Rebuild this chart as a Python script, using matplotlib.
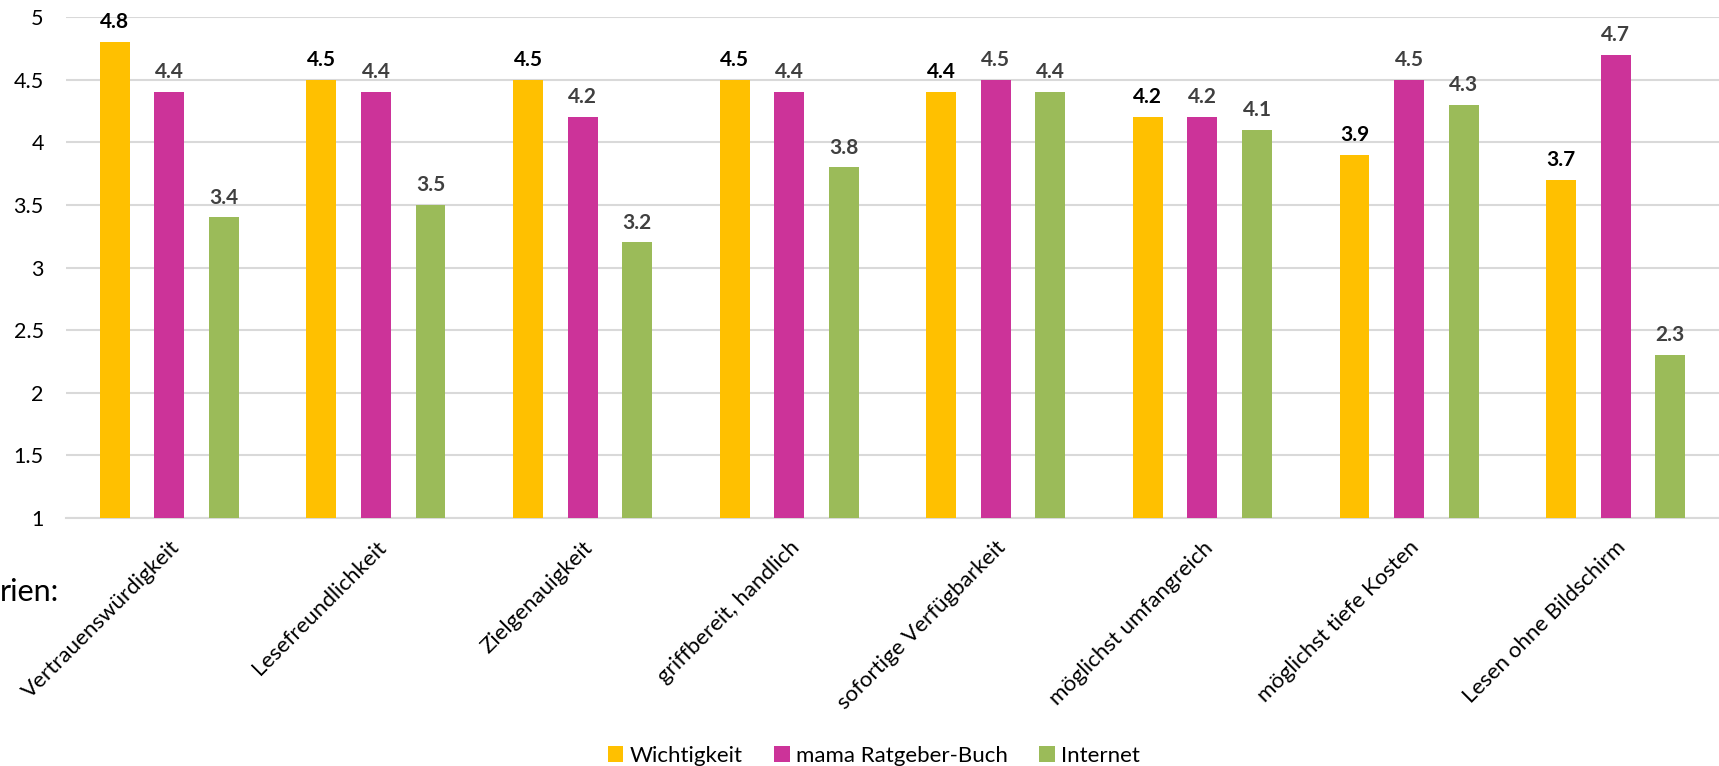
import matplotlib
matplotlib.use("Agg")
import matplotlib.pyplot as plt
import numpy as np

# ── Data ──
categories = ["Vertrauenswürdigkeit", "Lesefreundlichkeit", "Zielgenauigkeit",
              "griffbereit, handlich", "sofortige Verfügbarkeit", "möglichst umfangreich",
              "möglichst tiefe Kosten", "Lesen ohne Bildschirm"]
wichtigkeit = [4.8, 4.5, 4.5, 4.5, 4.4, 4.2, 3.9, 3.7]
ratgeber = [4.4, 4.4, 4.2, 4.4, 4.5, 4.2, 4.5, 4.7]
internet = [3.4, 3.5, 3.2, 3.8, 4.4, 4.1, 4.3, 2.3]
series_names = ["Wichtigkeit", "mama Ratgeber-Buch", "Internet"]
colors = ["#FFC000", "#CC3399", "#9BBB59"]
label_colors = ["#000000", "#404040", "#404040"]
yticks = [1, 1.5, 2, 2.5, 3, 3.5, 4, 4.5, 5]

plt.rcParams['font.family'] = ['Lato', 'DejaVu Sans']

fig = plt.figure(figsize=(17.19, 7.66), dpi=100)
ax = fig.add_axes([66 / 1719, 1 - 518 / 766, 1 - 66 / 1719, (518 - 17) / 766])

x = np.arange(len(categories))
width = 0.145
step = 0.264
for i, (vals, name) in enumerate(zip([wichtigkeit, ratgeber, internet], series_names)):
    pos = x + (i - 1) * step
    ax.bar(pos, np.array(vals) - 1, bottom=1, width=width, color=colors[i], label=name, zorder=3)
    for p, v in zip(pos, vals):
        ax.annotate(f"{v:.1f}", (p, v), textcoords="offset points", xytext=(0, 7),
                    ha='center', va='bottom', fontsize=15, fontweight='bold',
                    color=label_colors[i])

ax.set_xlim(-0.5, len(categories) - 0.5)
ax.set_ylim(1, 5)
ax.set_yticks(yticks)
ax.set_yticklabels([f"{t:g}" for t in yticks], fontsize=15.5, color="#000000")
ax.set_xticks(x)
ax.set_xticklabels(categories, rotation=45, ha='right', va='top', rotation_mode='anchor',
                   fontsize=16, color="#000000")
ax.tick_params(axis='both', length=0)
ax.tick_params(axis='y', pad=16)
ax.tick_params(axis='x', pad=14)
ax.yaxis.grid(True, color="#D9D9D9", linewidth=1.5, zorder=0)
for s in ["top", "right", "left"]:
    ax.spines[s].set_visible(False)
ax.spines["bottom"].set_color("#D9D9D9")
ax.spines["bottom"].set_linewidth(1.5)

# cut-off heading fragment at the left edge
fig.text(0.0, 1 - 592 / 766, "rien:", fontsize=22, ha='left', va='center', color="#000000")

fig.legend(loc='center', bbox_to_anchor=(874 / 1719, 1 - 756 / 766), ncol=3, frameon=False,
           fontsize=16, handlelength=0.7, handleheight=0.7, columnspacing=1.4, handletextpad=0.3)

plt.savefig("out.png", dpi=100)
